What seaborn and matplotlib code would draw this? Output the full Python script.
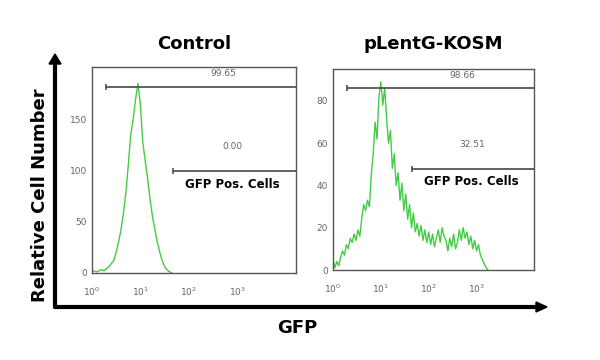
import numpy as np
import pandas as pd
import matplotlib.pyplot as plt
import seaborn as sns
from matplotlib.ticker import LogLocator, NullFormatter

sns.set_style("white")
plt.rcParams['font.family'] = ['DejaVu Sans']

# Histogram counts (bins on a log10 GFP scale)
control_start, control_step = 0.0, 0.05
control_counts = [1, 2, 1, 2, 3, 2, 4, 6, 9, 12, 20, 30, 42, 58, 78, 105, 135, 150,
                  170, 186, 165, 128, 110, 92, 72, 55, 42, 30, 20, 12, 6, 3, 1, 0]

kosm_start, kosm_step = 0.0, 0.04
kosm_counts = [5, 1, 4, 2, 6, 9, 7, 12, 10, 15, 13, 17, 14, 19, 16, 24, 31, 28, 33, 30,
               45, 55, 70, 62, 82, 89, 78, 86, 72, 60, 66, 48, 55, 40, 46, 33, 41, 28,
               36, 24, 31, 20, 27, 18, 22, 16, 21, 14, 19, 13, 18, 12, 17, 11, 15, 19,
               13, 20, 16, 14, 9, 15, 11, 17, 10, 13, 19, 14, 20, 15, 18, 12, 16, 10,
               14, 9, 12, 7, 5, 3, 1, 0]

titles = ["Control", "pLentG-KOSM"]
ylims = [202, 95]
yticks = [[0, 50, 100, 150], [0, 20, 40, 60, 80]]
# gates: (start, level, label)
all_gate = [(1.95, 182, "99.65"), (2.0, 86, "98.66")]
pos_gate = [(47, 100, "0.00"), (44, 48, "32.51")]

green = "#44cc44"
gray = "#555555"

fig = plt.figure(figsize=(6, 3.6), dpi=100)
boxes = [[0.153, 0.242, 0.340, 0.572], [0.555, 0.250, 0.335, 0.558]]
series = [(control_start, control_step, control_counts), (kosm_start, kosm_step, kosm_counts)]

for i in range(2):
    ax = fig.add_axes(boxes[i])
    start, step, counts = series[i]
    x = 10 ** (start + step * np.arange(len(counts)))
    df = pd.DataFrame({"gfp": x, "count": counts})
    sns.lineplot(data=df, x="gfp", y="count", ax=ax, color=green, lw=1.0)
    ax.set_xscale("log")
    ax.set_xlim(1, 10 ** 4.2)
    ax.set_ylim(0, ylims[i])
    ax.set_xticks([1, 10, 100, 1000])
    ax.xaxis.set_minor_locator(LogLocator(base=10, subs=np.arange(2, 10), numticks=20))
    ax.xaxis.set_minor_formatter(NullFormatter())
    ax.set_yticks(yticks[i])
    ax.tick_params(axis="both", which="both", direction="in", colors="#666666",
                   labelsize=6.5, length=2.5, width=0.6)
    ax.tick_params(axis="x", pad=9)
    ax.set_xlabel("")
    ax.set_ylabel("")
    for s in ax.spines.values():
        s.set_color(gray)
        s.set_linewidth(1.0)

    xs, ys, lab = all_gate[i]
    ax.plot([xs, 10 ** 4.2], [ys, ys], color=gray, lw=1.3)
    ax.plot([xs], [ys], marker="|", color=gray, ms=5, mew=1.2)
    ax.text(10 ** 2.7, ys + 0.065 * ylims[i], lab, ha="center", va="center",
            fontsize=6.5, color="#666666")

    xs, ys, lab = pos_gate[i]
    ax.plot([xs, 10 ** 4.2], [ys, ys], color=gray, lw=1.3)
    ax.plot([xs], [ys], marker="|", color=gray, ms=5, mew=1.2)
    ax.text(10 ** 2.9, ys + 0.12 * ylims[i], lab, ha="center", va="center",
            fontsize=6.5, color="#666666")
    ax.text(10 ** 2.9, ys - 0.065 * ylims[i], "GFP Pos. Cells", ha="center",
            va="center", fontsize=8.5, fontweight="bold", color="black")

    # panel title, same height for both panels
    fig.text(boxes[i][0] + boxes[i][2] / 2, 1 - 44 / 360, titles[i], ha="center",
             va="center", fontsize=13, fontweight="bold", color="black")

# outer arrows
fig.add_artist(plt.Line2D([55 / 600, 55 / 600], [1 - 307 / 360, 1 - 62 / 360],
                          color="black", lw=3, transform=fig.transFigure))
fig.add_artist(plt.Line2D([55 / 600, 538 / 600], [1 - 307 / 360, 1 - 307 / 360],
                          color="black", lw=3, transform=fig.transFigure))
fig.add_artist(plt.Polygon([[49 / 600, 1 - 64 / 360], [61 / 600, 1 - 64 / 360],
                            [55 / 600, 1 - 54 / 360]], closed=True, color="black",
                           transform=fig.transFigure))
fig.add_artist(plt.Polygon([[536 / 600, 1 - 302 / 360], [536 / 600, 1 - 312 / 360],
                            [547 / 600, 1 - 307 / 360]], closed=True, color="black",
                           transform=fig.transFigure))

fig.text(40 / 600, 1 - 195 / 360, "Relative Cell Number", rotation=90, ha="center",
         va="center", fontsize=13, fontweight="bold", color="black")
fig.text(297 / 600, 1 - 328 / 360, "GFP", ha="center", va="center", fontsize=13,
         fontweight="bold", color="black")

fig.savefig("out.png", dpi=100, facecolor="white")
